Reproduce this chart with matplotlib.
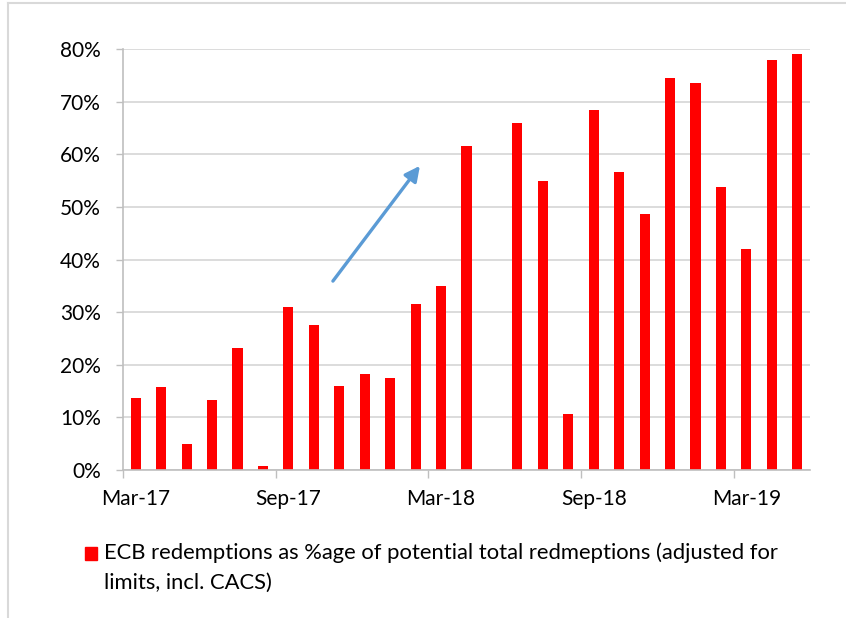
import matplotlib
matplotlib.use("Agg")
import matplotlib.pyplot as plt
from matplotlib.lines import Line2D
from matplotlib.ticker import FixedLocator, FuncFormatter
from matplotlib.patches import Rectangle

months = ["Mar-17", "Apr-17", "May-17", "Jun-17", "Jul-17", "Aug-17", "Sep-17", "Oct-17",
          "Nov-17", "Dec-17", "Jan-18", "Feb-18", "Mar-18", "Apr-18", "May-18", "Jun-18",
          "Jul-18", "Aug-18", "Sep-18", "Oct-18", "Nov-18", "Dec-18", "Jan-19", "Feb-19",
          "Mar-19", "Apr-19", "May-19"]
values = [13.7, 15.8, 4.9, 13.3, 23.2, 0.8, 31.0, 27.6, 16.0, 18.2, 17.5, 31.5, 35.0,
          61.6, 0.0, 65.9, 54.9, 10.6, 68.4, 56.6, 48.6, 74.5, 73.5, 53.8, 42.0, 77.9, 79.0]
label_months = ["Mar-17", "Sep-17", "Mar-18", "Sep-18", "Mar-19"]
yticks = [0, 10, 20, 30, 40, 50, 60, 70, 80]
legend_lines = ["ECB redemptions as %age of potential total redmeptions (adjusted for",
                "limits, incl. CACS)"]

plt.rcParams['font.family'] = ['Lato', 'DejaVu Sans']

W, H = 846, 618
fig = plt.figure(figsize=(W / 100, H / 100), dpi=100)
ax = fig.add_axes([123 / W, 1 - 470 / H, (810 - 123) / W, (470 - 49) / H])

x = list(range(len(months)))
ax.bar(x, values, width=0.4, color="#FF0000", zorder=3)

ax.set_xlim(-0.5, len(months) - 0.5)
ax.set_ylim(0, 80)

grid_c = "#D9D9D9"
axis_c = "#BFBFBF"
tick_fs = 15
ax.yaxis.set_major_locator(FixedLocator(yticks))
ax.yaxis.set_major_formatter(FuncFormatter(lambda v, p: f"{int(v)}%"))
ax.grid(axis="y", color=grid_c, linewidth=1.3, zorder=0)
ax.tick_params(axis="y", length=5, width=1, color=axis_c, pad=11, labelsize=tick_fs,
               labelcolor="black")

# major ticks at 6-month boundaries (no labels), minor ticks for labels at category centers
label_pos = [months.index(m) for m in label_months]
ax.xaxis.set_major_locator(FixedLocator([p - 0.5 for p in label_pos]))
ax.xaxis.set_major_formatter(FuncFormatter(lambda v, p: ""))
ax.xaxis.set_minor_locator(FixedLocator(label_pos))
ax.xaxis.set_minor_formatter(FuncFormatter(lambda v, p: months[int(round(v))]))
ax.tick_params(axis="x", which="major", length=6, width=1, color=axis_c)
ax.tick_params(axis="x", which="minor", length=0, pad=14, labelsize=tick_fs, labelcolor="black")

for s in ["top", "right"]:
    ax.spines[s].set_visible(False)
for s in ["left", "bottom"]:
    ax.spines[s].set_color(axis_c)
    ax.spines[s].set_linewidth(1.2)
ax.spines["bottom"].set_zorder(4)

# arrow
ax.annotate("", xy=(11.17, 57.8), xytext=(7.75, 35.9),
            arrowprops=dict(arrowstyle="-|>,head_length=0.9,head_width=0.45",
                            color="#5B9BD5", lw=2.4, shrinkA=0, shrinkB=0),
            zorder=5)

# legend
fig.patches.append(Rectangle((85 / W, 1 - 560 / H), 12 / W, 13 / H,
                             transform=fig.transFigure, color="#FF0000"))
fig.text(104 / W, 1 - 553 / H, legend_lines[0], fontsize=15.8, va="center", ha="left")
fig.text(104 / W, 1 - 583 / H, legend_lines[1], fontsize=15.8, va="center", ha="left")

# outer frame lines
fig.add_artist(Line2D([8 / W, 1], [1 - 3 / H, 1 - 3 / H], transform=fig.transFigure,
                      color="#D9D9D9", lw=1.5))
fig.add_artist(Line2D([8 / W, 8 / W], [0, 1 - 3 / H], transform=fig.transFigure,
                      color="#D9D9D9", lw=1.5))

fig.savefig("out.png", dpi=100)
